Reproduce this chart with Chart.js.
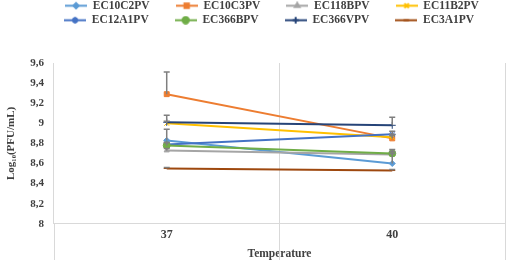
<!DOCTYPE html>
<html>
<head>
<meta charset="utf-8">
<script src="https://cdn.jsdelivr.net/npm/chart.js@4"></script>
<style>
  html, body { margin: 0; padding: 0; background: #fff; }
  #wrap { width: 510px; height: 260px; }
</style>
</head>
<body>
<div id="wrap"><canvas id="myChart"></canvas></div>
<script>
// data
const temps = ['37', '40'];
const seriesNames = ['EC10C2PV', 'EC10C3PV', 'EC118BPV', 'EC11B2PV', 'EC12A1PV', 'EC366BPV', 'EC366VPV', 'EC3A1PV'];
const ec10c2pv = [8.83, 8.60];
const ec10c3pv = [9.29, 8.85];
const ec118bpv = [8.73, 8.69];
const ec11b2pv = [9.00, 8.86];
const ec12a1pv = [8.79, 8.89];
const ec366bpv = [8.78, 8.70];
const ec366vpv = [9.01, 8.98];
const ec3a1pv = [8.55, 8.53];
// upper error bars
const errEc10c2pv = [0.11, 0.10];
const errEc10c3pv = [0.22, 0.03];
const errEc118bpv = [0.02, 0.03];
const errEc11b2pv = [0.02, 0.03];
const errEc12a1pv = [0.02, 0.03];
const errEc366bpv = [0.03, 0.04];
const errEc366vpv = [0.07, 0.08];
const errEc3a1pv = [0.01, 0.01];
const yTicks = [8, 8.2, 8.4, 8.6, 8.8, 9, 9.2, 9.4, 9.6];

const values = [ec10c2pv, ec10c3pv, ec118bpv, ec11b2pv, ec12a1pv, ec366bpv, ec366vpv, ec3a1pv];
const errors = [errEc10c2pv, errEc10c3pv, errEc118bpv, errEc11b2pv, errEc12a1pv, errEc366bpv, errEc366vpv, errEc3a1pv];
const colors = ['#5B9BD5', '#ED7D31', '#A5A5A5', '#FFC000', '#4472C4', '#70AD47', '#264478', '#9E480E'];
const markers = ['rectRot', 'rect', 'triangle', 'crossRot', 'star', 'circle', 'cross', 'line'];
const radii = [3, 3.5, 3, 3.5, 3.5, 3.5, 3.5, 3];

const FONT = "'Liberation Serif', 'Times New Roman', serif";
const TEXT = '#404040';
const GRID = '#D9D9D9';

// small line + marker icon for the legend
function legendIcon(i) {
    const c = document.createElement('canvas');
    c.width = 22; c.height = 9;
    const g = c.getContext('2d');
    g.strokeStyle = colors[i];
    g.fillStyle = colors[i];
    g.lineWidth = 2;
    g.beginPath();
    g.moveTo(0, 4.5);
    g.lineTo(22, 4.5);
    g.stroke();
    Chart.helpers.drawPoint(g, { pointStyle: markers[i], radius: radii[i] * 0.9, rotation: 0, borderWidth: 1 }, 11, 4.5);
    return c;
}

const datasets = seriesNames.map((name, i) => ({
    label: name,
    data: values[i],
    errors: errors[i],
    borderColor: colors[i],
    backgroundColor: colors[i],
    borderWidth: 2,
    pointStyle: markers[i],
    pointRadius: radii[i],
    pointBorderWidth: 1,
    order: seriesNames.length - i, // later series on top, like the original
    tension: 0
}));

// gray upper error bars
const errorBars = {
    id: 'errorBars',
    afterDatasetsDraw(chart) {
        const ctx = chart.ctx;
        const y = chart.scales.y;
        ctx.save();
        ctx.strokeStyle = '#7F7F7F';
        ctx.lineWidth = 1.5;
        chart.data.datasets.forEach((ds, di) => {
            const meta = chart.getDatasetMeta(di);
            meta.data.forEach((pt, j) => {
                const top = y.getPixelForValue(ds.data[j] + ds.errors[j]);
                ctx.beginPath();
                ctx.moveTo(pt.x, pt.y);
                ctx.lineTo(pt.x, top);
                ctx.moveTo(pt.x - 3, top);
                ctx.lineTo(pt.x + 3, top);
                ctx.stroke();
            });
        });
        ctx.restore();
    }
};

// category divider lines carried on below the axis, as in the original
const dividers = {
    id: 'dividers',
    beforeDatasetsDraw(chart) {
        const x = chart.scales.x;
        const area = chart.chartArea;
        const ctx = chart.ctx;
        const mid = (x.getPixelForValue(0) + x.getPixelForValue(1)) / 2;
        ctx.save();
        ctx.strokeStyle = GRID;
        ctx.lineWidth = 1;
        [x.left, mid, x.right].forEach(px => {
            const p = Math.round(px) + 0.5;
            ctx.beginPath();
            ctx.moveTo(p, area.bottom);
            ctx.lineTo(p, chart.height);
            ctx.stroke();
        });
        ctx.restore();
    }
};

// extra room below the legend, and nudge it like the original
const legendSpace = {
    id: 'legendSpace',
    beforeInit(chart) {
        const fit = chart.legend.fit;
        chart.legend.fit = function () {
            fit.call(this);
            this.height += 24;
        };
    },
    afterUpdate(chart) {
        chart.legend.left += 4;
        chart.legend.right += 4;
        chart.legend.top -= 3;
    }
};

const ctx = document.getElementById('myChart');

new Chart(ctx, {
    type: 'line',
    data: { labels: temps, datasets: datasets },
    options: {
        responsive: true,
        maintainAspectRatio: false,
        animation: false,
        layout: { padding: { left: 0, right: 1, top: 0, bottom: -1 } },
        plugins: {
            tooltip: { enabled: false },
            legend: {
                position: 'top',
                fullSize: false,
                labels: {
                    color: TEXT,
                    font: { family: FONT, size: 11.5, weight: 'bold' },
                    usePointStyle: true,
                    pointStyleWidth: 22,
                    boxWidth: 22,
                    padding: 3,
                    generateLabels(chart) {
                        const g = chart.ctx;
                        g.save();
                        g.font = "bold 11.5px " + FONT;
                        const labels = chart.data.datasets.map((ds, i) => {
                            let text = ds.label;
                            while (g.measureText(text).width < 78) text += ' ';
                            return {
                                text: text,
                                fillStyle: colors[i],
                                strokeStyle: colors[i],
                                fontColor: TEXT,
                                lineWidth: 0,
                                pointStyle: legendIcon(i),
                                datasetIndex: i,
                                hidden: false
                            };
                        });
                        g.restore();
                        return labels;
                    }
                }
            }
        },
        scales: {
            x: {
                type: 'category',
                offset: true,
                grid: {
                    offset: true,
                    color: GRID,
                    lineWidth: 1,
                    drawTicks: false
                },
                border: { display: true, color: GRID },
                ticks: {
                    color: TEXT,
                    padding: 4,
                    font: { family: FONT, size: 12, weight: 'bold' }
                },
                title: {
                    display: true,
                    text: 'Temperature',
                    color: TEXT,
                    padding: { top: 1, bottom: 0 },
                    font: { family: FONT, size: 11.5, weight: 'bold' }
                }
            },
            y: {
                min: 8,
                max: 9.6,
                afterBuildTicks(scale) {
                    scale.ticks = yTicks.map(v => ({ value: v }));
                },
                grid: { display: false, drawTicks: false },
                border: { display: false },
                ticks: {
                    color: TEXT,
                    padding: 10,
                    font: { family: FONT, size: 11, weight: 'bold' },
                    callback: v => String(Number(v.toFixed(1))).replace('.', ',')
                },
                title: {
                    display: true,
                    text: 'Log₁₀(PFU/mL)',
                    color: TEXT,
                    padding: { top: 5, bottom: 2 },
                    font: { family: FONT, size: 11, weight: 'bold' }
                }
            }
        }
    },
    plugins: [errorBars, dividers, legendSpace]
});
</script>
</body>
</html>
